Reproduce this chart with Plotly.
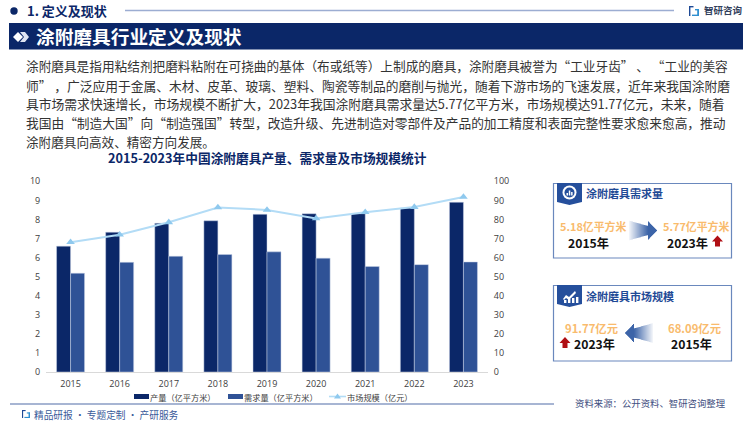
import plotly.graph_objects as go

W, H = 750, 421
years = ["2015", "2016", "2017", "2018", "2019", "2020", "2021", "2022", "2023"]
production = [6.6, 7.33, 7.8, 7.93, 8.27, 8.3, 8.3, 8.6, 8.9]
demand = [5.18, 5.75, 6.07, 6.16, 6.3, 5.97, 5.53, 5.63, 5.77]
market = [68.09, 72.0, 78.5, 86.3, 85.0, 80.5, 83.8, 86.5, 91.77]
left_ticks = list(range(0, 11))
right_ticks = list(range(0, 101, 10))
body_lines = [
    "涂附磨具是指用粘结剂把磨料粘附在可挠曲的基体（布或纸等）上制成的磨具，涂附磨具被誉为“工业牙齿” 、 “工业的美容",
    "师” ，广泛应用于金属、木材、皮革、玻璃、塑料、陶瓷等制品的磨削与抛光，随着下游市场的飞速发展，近年来我国涂附磨",
    "具市场需求快速增长，市场规模不断扩大，2023年我国涂附磨具需求量达5.77亿平方米，市场规模达91.77亿元，未来，随着",
    "我国由“制造大国”向“制造强国”转型，改造升级、先进制造对零部件及产品的加工精度和表面完整性要求愈来愈高，推动",
    "涂附磨具向高效、精密方向发展。",
]
body_sizes = [12.67, 12.75, 12.79, 12.72, 12.6]
NAVY = "#0b2768"
BLUE = "#2f5296"
CJK = "Noto Sans CJK SC"

def X(p): return p / W
def Y(p): return 1 - p / H

shapes, notes = [], []

def rect(x0, y0, x1, y1, fill=None, line=None, lw=1, opacity=1):
    shapes.append(dict(type="rect", xref="paper", yref="paper", x0=X(x0), x1=X(x1), y0=Y(y0), y1=Y(y1),
                       fillcolor=fill or "rgba(0,0,0,0)", opacity=opacity,
                       line=dict(color=line or "rgba(0,0,0,0)", width=lw if line else 0)))

def hline(x0, x1, y, color, lw=1):
    shapes.append(dict(type="line", xref="paper", yref="paper", x0=X(x0), x1=X(x1), y0=Y(y), y1=Y(y),
                       line=dict(color=color, width=lw)))

def poly(points, fill):
    d = "M " + " L ".join(f"{X(a):.5f} {Y(b):.5f}" for a, b in points) + " Z"
    shapes.append(dict(type="path", xref="paper", yref="paper", path=d, fillcolor=fill, line=dict(width=0)))

def circle(cx, cy, r, fill):
    shapes.append(dict(type="circle", xref="paper", yref="paper", x0=X(cx - r), x1=X(cx + r),
                       y0=Y(cy - r), y1=Y(cy + r), fillcolor=fill, line=dict(width=0)))

def text(x, y, s, size, color, bold=False, anchor="left", font=CJK):
    notes.append(dict(xref="paper", yref="paper", x=X(x), y=Y(y), text=f"<b>{s}</b>" if bold else s,
                      showarrow=False, xanchor=anchor, yanchor="middle", borderpad=0, borderwidth=0,
                      font=dict(family=font, size=size, color=color)))

def grad_arrow(tip, tail, cy):
    sign = 1 if tail > tip else -1
    length = abs(tail - tip)
    for i in range(int(length)):
        t = i / length
        if t < 0.3:
            half = 0.8 + t / 0.3 * 8.5
            a = 1.0
        else:
            half = 4.5 + (t - 0.3) / 0.7 * 5.5
            a = 1.0 - (t - 0.3) / 0.7 * 0.97
        x0 = tip + sign * i
        rect(min(x0, x0 + sign), cy - half, max(x0, x0 + sign), cy + half, fill="#3c64a8", opacity=a)

def red_up(cx, cy):
    poly([(cx, cy - 6), (cx + 5.5, cy), (cx + 2.5, cy), (cx + 2.5, cy + 5), (cx - 2.5, cy + 5),
          (cx - 2.5, cy), (cx - 5.5, cy)], "#b00f14")

def logo(x, y, s):
    c = "#1f4a96"
    rect(x, y, x + s * 0.45, y + s * 0.14, fill=c)
    rect(x, y, x + s * 0.14, y + s, fill=c)
    rect(x + s * 0.6, y + s * 0.3, x + s, y + s * 0.44, fill="#2f8fd0")
    rect(x + s * 0.3, y + s * 0.86, x + s, y + s, fill="#2f8fd0")
    rect(x + s * 0.82, y + s * 0.3, x + s, y + s, fill="#2f8fd0")

def tab(x0, x1, y0, y1):
    mid = (x0 + x1) / 2
    poly([(x0, y0), (x1, y0), (x1, y1 - 3), (mid, y1), (x0, y1 - 3)], "#254f9c")

# header
circle(14, 11, 3.7, NAVY)
text(26.5, 11, "1. 定义及现状", 13, NAVY, True)
hline(125, 674, 10.5, "#9cadd2", 1.3)
logo(689, 6, 10)
text(703.5, 10.5, "智研咨询", 9.5, "#333f5c", True)
rect(9, 23, 743, 49.5, fill=NAVY)
poly([(13, 37), (18, 32), (23, 37), (18, 42)], "#ffffff")
poly([(20, 32), (25, 32), (29, 37), (25, 42), (20, 42), (24, 37)], "#dfe5f2")
text(35.5, 36, "涂附磨具行业定义及现状", 18.7, "#ffffff", True)

# paragraph
for yy, line, sz in zip([66, 85, 103.5, 122.5, 141.5], body_lines, body_sizes):
    text(25.5, yy, line, sz, "#333333")
text(267, 158, "2015-2023年中国涂附磨具产量、需求量及市场规模统计", 12.7, NAVY, True, "center")

# right cards
rect(553.5, 183.5, 731.5, 258, line="#6a88bd", lw=1.2)
tab(557, 582, 183, 205)
circle(569.5, 192.5, 7, "#ffffff")
circle(569.5, 192.5, 5, "#254f9c")
for bx, bh in [(566.5, 2.5), (568.8, 5), (571.1, 3.5)]:
    rect(bx, 195.5 - bh, bx + 1.5, 195.5, fill="#ffffff")
text(586, 193, "涂附磨具需求量", 11, "#1f4a96", True)
text(592.5, 226, "5.18亿平方米", 10.9, "#f9bb6d", True, "center")
text(588, 242.5, "2015年", 12.2, "#111111", True, "center")
text(695.5, 226, "5.77亿平方米", 10.9, "#f9bb6d", True, "center")
text(687, 242.5, "2023年", 12.2, "#111111", True, "center")
red_up(717.5, 241.5)
grad_arrow(657, 629, 230.5)

rect(553.5, 285.5, 731.5, 361, line="#6a88bd", lw=1.2)
tab(557, 582, 285, 307)
poly([(563, 299), (566, 295), (569, 297), (575, 291), (576, 293), (569, 300), (566, 298), (564, 300)], "#ffffff")
for bx, bh in [(564, 3), (568, 4), (572, 5), (576, 6)]:
    rect(bx, 301 - bh + 2, bx + 2.4, 303, fill="#ffffff")
text(586, 295.5, "涂附磨具市场规模", 11, "#1f4a96", True)
text(591, 328, "91.77亿元", 11.3, "#f9bb6d", True, "center")
text(594, 343.5, "2023年", 12.2, "#111111", True, "center")
red_up(565, 343)
text(694, 328, "68.09亿元", 11.3, "#f9bb6d", True, "center")
text(691.5, 343.5, "2015年", 12.2, "#111111", True, "center")
grad_arrow(625, 653, 333)

# legend drawn to the reference's swatch sizes
LEG = "#404040"
rect(134, 394, 149, 399, fill=NAVY)
text(150, 396.5, "产量（亿平方米）", 8.2, LEG)
rect(228, 394, 243, 399, fill=BLUE)
text(244, 396.5, "需求量（亿平方米）", 8.2, LEG)
hline(329, 346, 396.5, "#b3dcf6", 1.6)
poly([(337.5, 393.5), (341, 398.5), (334, 398.5)], "#8fc9ee")
text(347, 396.5, "市场规模（亿元）", 8.2, LEG)

# footer
hline(10, 554, 404, "#8a9cc4", 1.3)
logo(22, 410, 8)
text(34, 414.5, "精品研报 · 专题定制 · 产研服务", 9.7, "#3a5a9a")
text(575, 403, "资料来源：公开资料、智研咨询整理", 9.4, "#3f4f7f")

fig = go.Figure()
fig.add_bar(x=years, y=production, name="产量（亿平方米）", marker=dict(color=NAVY, line=dict(color="#c9d3e6", width=0.5)))
fig.add_bar(x=years, y=demand, name="需求量（亿平方米）", marker=dict(color=BLUE, line=dict(color="#c9d3e6", width=0.5)))
fig.add_scatter(x=years, y=market, name="市场规模（亿元）", yaxis="y2", mode="lines+markers",
                line=dict(color="#b3dcf6", width=2), marker=dict(symbol="triangle-up", size=7.5, color="#8fc9ee"))
tick_font = dict(family="Open Sans", size=9, color="#404040")
fig.update_layout(
    width=W, height=H, margin=dict(l=0, r=0, t=0, b=0), autosize=False,
    paper_bgcolor="#ffffff", plot_bgcolor="#ffffff", showlegend=False,
    barmode="group", bargap=0.43, bargroupgap=0,
    xaxis=dict(domain=[X(46), X(488)], type="category", automargin=False, showgrid=False, showline=True,
               linecolor="#d9d9d9", linewidth=1, ticks="outside", ticklen=3, tickcolor="rgba(0,0,0,0)",
               tickfont=tick_font, anchor="y", range=[-0.5, 8.5]),
    yaxis=dict(domain=[Y(372), Y(181.3)], range=[0, 10], tickvals=left_ticks, automargin=False, showgrid=False,
               zeroline=False, ticks="outside", ticklen=3, tickcolor="rgba(0,0,0,0)", tickfont=tick_font,
               showline=False, anchor="x"),
    yaxis2=dict(domain=[Y(372), Y(181.3)], range=[0, 100], tickvals=right_ticks, overlaying="y", side="right",
                automargin=False, showgrid=False, zeroline=False, ticks="outside", ticklen=3,
                tickcolor="rgba(0,0,0,0)", tickfont=tick_font, anchor="x"),
    shapes=shapes, annotations=notes, font=dict(family=CJK),
)
fig.write_html("out.html", config={"displayModeBar": False},
               post_script="document.body.style.margin='0';document.body.style.overflow='hidden';")
